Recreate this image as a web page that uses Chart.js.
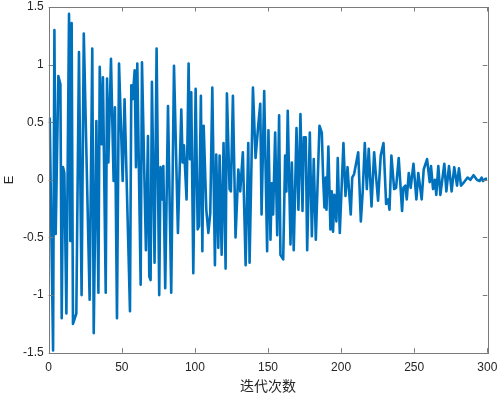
<!DOCTYPE html>
<html lang="zh">
  <head>
    <meta charset="UTF-8" />
    <title>E vs iterations</title>
    <script src="https://cdn.jsdelivr.net/npm/chart.js@4.4.0/dist/chart.umd.min.js"></script>
    <style>
      body { margin: 0; background: #fff; }
    </style>
  </head>
  <body>
    <canvas id="chart" width="500" height="395"></canvas>

    <script>
      // turning points of the curve
      const iters = [
        0.7, 3.0, 3.9, 4.8, 6.6, 8.0, 8.9, 9.8, 10.7, 12.1, 13.9, 14.8, 15.7, 16.6, 18.9, 20.7,
        22.5, 24.0, 28.0, 29.8, 30.8, 32.6, 34.0, 34.9, 36.2, 37.1, 39.0, 39.9, 40.8, 42.6, 44.4,
        45.3, 46.7, 48.1, 50.6, 51.9, 55.6, 56.5, 57.4, 58.8, 59.7, 60.6, 62.9, 63.8, 66.5, 67.9,
        68.8, 69.7, 70.6, 72.4, 73.8, 75.6, 76.5, 77.5, 78.4, 79.7, 81.6, 83.8, 85.7, 88.4, 90.7,
        91.6, 92.5, 94.3, 95.7, 96.6, 97.5, 98.9, 100.5, 101.9, 102.8, 104.1, 105.1, 106.0, 107.8,
        109.2, 110.5, 111.9, 113.7, 114.6, 116.0, 116.9, 118.3, 119.6, 121.0, 121.9, 123.7, 124.6,
        126.0, 127.8, 129.7, 131.0, 132.8, 134.7, 136.5, 137.4, 139.7, 141.5, 143.3, 144.7, 145.6,
        147.4, 149.4, 150.3, 151.7, 152.6, 153.5, 154.9, 156.3, 157.6, 158.5, 160.4, 161.7, 162.6,
        163.5, 165.4, 166.3, 167.6, 169.5, 170.8, 172.2, 173.6, 174.5, 175.8, 176.8, 178.6, 180.0,
        181.3, 182.7, 185.2, 186.8, 187.7, 188.6, 189.5, 190.0, 191.3, 192.7, 193.6, 194.5, 195.4,
        196.8, 197.7, 199.1, 201.6, 203.0, 204.4, 205.3, 206.6, 207.6, 208.9, 211.7, 213.5, 214.8,
        216.2, 217.6, 218.9, 220.8, 222.6, 223.5, 225.3, 227.1, 229.0, 230.8, 232.2, 233.1, 234.4,
        236.3, 237.6, 239.4, 241.7, 242.6, 244.0, 244.9, 246.3, 247.6, 249.5, 251.5, 252.8, 255.1,
        256.5, 258.8, 260.6, 261.5, 262.9, 264.2, 265.1, 266.5, 267.9, 270.6, 272.0, 273.8, 275.6,
        277.4, 279.3, 280.6, 282.0, 283.4, 284.7, 286.5, 288.4, 290.6, 292.9, 294.7, 296.1, 297.0,
        298.8, 300
      ];
      const energy = [
        0.54, -1.48, 1.30, -0.47, 0.90, 0.83, -1.20, 0.11, 0.06, -1.16, 1.44, -0.53, 1.36, -1.25, -1.16, 1.11,
        -1.0, 1.27, -1.04, 1.14, -1.33, 0.51, -0.98, 0.98, 0.31, 0.89, -0.98, 0.88, 0.15, 1.05, -0.01,
        0.63, -1.20, 1.01, -0.01, 0.70, -1.14, 0.82, 0.70, 0.95, 0.11, 1.01, -0.91, 1.02, -0.61, 0.38,
        -0.84, -0.87, 0.85, -0.72, 1.14, -1.0, 0.11, -0.17, 0.12, -0.94, 0.64, -0.98, 0.99, -0.46, 0.61,
        0.15, 0.30, -0.17, 1.01, 0.18, 0.76, -0.81, 0.79, -0.43, -0.40, 0.73, -0.62, 0.47, -0.26,
        -0.46, -0.29, 0.80, -0.74, 0.22, -0.59, 0.21, -0.65, 0.32, -0.77, 0.75, -0.08, -0.10,
        0.73, -0.50, 0.09, -0.10, 0.24, -0.74, 0.32, -0.72, 0.80, 0.19, 0.47, 0.66, -0.30,
        0.77, -0.62, 0.43, -0.52, -0.03, -0.30, 0.41, -0.48, 0.56, -0.65, -0.69, 0.21, -0.10,
        0.60, -0.56, 0.15, -0.61, 0.45, -0.26, 0.57, -0.27, 0.37, 0.37, -0.61, 0.41, -0.49,
        0.18, -0.52, 0.47, 0.41, 0.02, -0.24, 0.02, -0.26, 0.29, -0.43, -0.10, -0.45, -0.13,
        -0.36, 0.19, -0.46, 0.32, -0.14, 0.11, -0.07, -0.30, 0.02, 0.05, 0.24, -0.36, -0.10,
        0.32, -0.08, 0.27, -0.23, 0.24, 0.09, -0.18, 0.21, 0.32, -0.21, -0.17, -0.26, 0.21,
        -0.08, -0.07, 0.19, -0.27, -0.07, -0.05, -0.17, 0.06, -0.07, 0.14, -0.17, 0.06, -0.17,
        0.09, 0.18, -0.02, 0.12, -0.08, 0.00, -0.13, 0.12, -0.13, 0.14, -0.10, 0.12, -0.10,
        0.11, -0.05, 0.10, -0.05, -0.03, -0.01, 0.02, 0.00, 0.04, 0.00, -0.01, 0.02, -0.01,
        0.01, 0.01
      ];
      const xTicks = [0, 50, 100, 150, 200, 250, 300];
      const yTicks = [-1.5, -1, -0.5, 0, 0.5, 1, 1.5];
      const xTitle = "迭代次数";
      const yTitle = "E";

      const axisColor = "#262626";
      const tickFont = { family: "'Liberation Sans', Arial, sans-serif", size: 12 };

      // MATLAB-like box with inward ticks on all four sides
      const boxPlugin = {
        id: "box",
        afterDraw(chart) {
          const { ctx, chartArea: a, scales } = chart;
          ctx.save();
          ctx.strokeStyle = "#7a7a7a";
          ctx.lineWidth = 1;
          ctx.strokeRect(Math.round(a.left) + 0.5, Math.round(a.top) + 0.5,
            Math.round(a.right - a.left), Math.round(a.bottom - a.top));
          ctx.beginPath();
          const len = 4.5;
          xTicks.forEach((v) => {
            const x = Math.round(scales.x.getPixelForValue(v)) + 0.5;
            ctx.moveTo(x, a.bottom); ctx.lineTo(x, a.bottom - len);
            ctx.moveTo(x, a.top); ctx.lineTo(x, a.top + len);
          });
          yTicks.forEach((v) => {
            const y = Math.round(scales.y.getPixelForValue(v)) + 0.5;
            ctx.moveTo(a.left, y); ctx.lineTo(a.left + len, y);
            ctx.moveTo(a.right, y); ctx.lineTo(a.right - len, y);
          });
          ctx.stroke();
          ctx.restore();
        },
      };

      new Chart(document.getElementById("chart"), {
        type: "line",
        data: {
          datasets: [
            {
              data: iters.map((x, i) => ({ x, y: energy[i] })),
              borderColor: "rgb(0,114,189)",
              borderWidth: 2.6,
              pointRadius: 0,
              tension: 0,
              borderJoinStyle: "round",
            },
          ],
        },
        options: {
          responsive: false,
          animation: false,
          layout: { padding: { top: 7, right: 12.7, bottom: 0, left: 0 } },
          plugins: { legend: { display: false }, tooltip: { enabled: false } },
          scales: {
            x: {
              type: "linear",
              min: 0,
              max: 300,
              afterBuildTicks: (s) => { s.ticks = xTicks.map((v) => ({ value: v })); },
              afterFit: (s) => {
                s.height = 42.3;
                s.paddingLeft = 0;
                s.paddingRight = 0;
              },
              grid: { display: false, drawTicks: false },
              border: { display: false },
              ticks: { color: axisColor, font: tickFont, padding: 8, maxRotation: 0 },
              title: {
                display: true,
                text: xTitle,
                color: axisColor,
                font: { family: "'Noto Sans CJK SC', sans-serif", size: 14 },
                padding: { top: 0, bottom: 1 },
              },
            },
            y: {
              type: "linear",
              min: -1.5,
              max: 1.5,
              afterBuildTicks: (s) => { s.ticks = yTicks.map((v) => ({ value: v })); },
              afterFit: (s) => {
                s.width = 48.7;
                s.paddingTop = 0;
                s.paddingBottom = 0;
              },
              grid: { display: false, drawTicks: false },
              border: { display: false },
              ticks: { color: axisColor, font: tickFont, padding: 5, callback: (v) => String(v) },
              title: {
                display: true,
                text: yTitle,
                color: axisColor,
                font: { family: "'Liberation Sans', Arial, sans-serif", size: 13 },
                padding: { top: 2, bottom: 0 },
              },
            },
          },
        },
        plugins: [boxPlugin],
      });
    </script>
  </body>
</html>
